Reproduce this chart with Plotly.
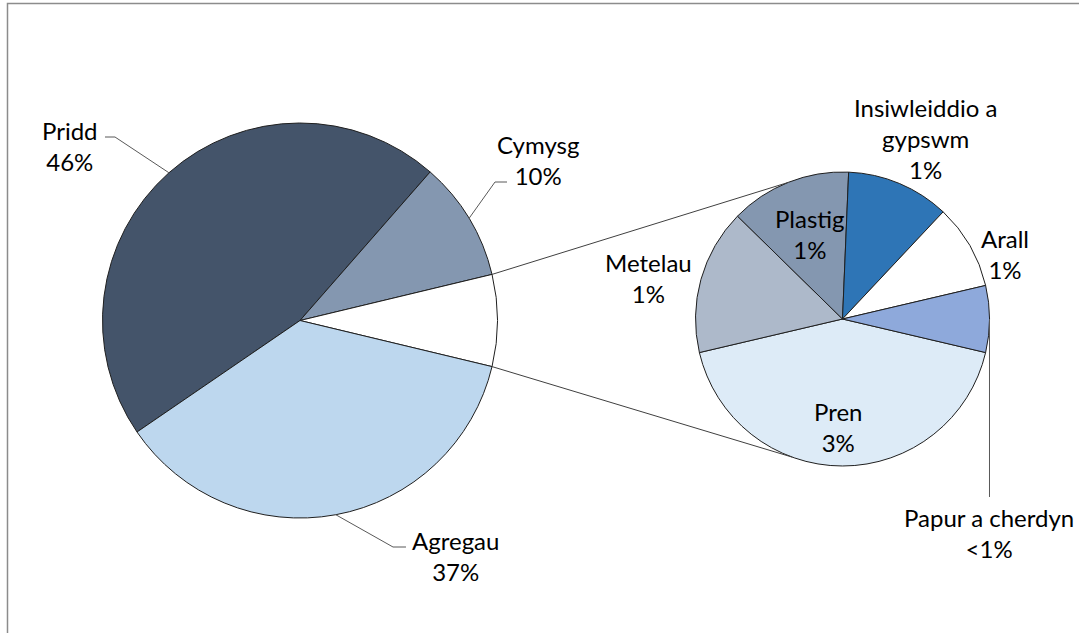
import math
import plotly.graph_objects as go

W, H = 1079, 633

# ---------------- data ----------------
main_names = ["Pridd", "Cymysg", "Agregau"]
main_values = [46.0, 9.8, 36.7]
main_pct_text = ["46%", "10%", "37%"]

sub_names = ["Pren", "Metelau", "Plastig", "Insiwleiddio a gypswm", "Arall", "Papur a cherdyn"]
sub_display = ["Pren", "Metelau", "Plastig", "Insiwleiddio a<br>gypswm", "Arall", "Papur a cherdyn"]
sub_values = [3.2, 1.2, 1.0, 0.85, 0.7, 0.55]
sub_pct_text = ["3%", "1%", "1%", "1%", "1%", "<1%"]

# ---------------- styles ----------------
FONT = "Lato"
FS = 24
main_colors = ["#44546A", "#8497B0", "#FFFFFF", "#BDD7EE"]
sub_colors = ["#DDEBF7", "#ADB9CA", "#8497B0", "#2E75B6", "#FFFFFF", "#8EA9DB"]
OUTLINE = "#1F1F1F"

# pie geometry in pixels (centre, radius)
MCX, MCY, MR = 300.0, 320.5, 197.5
SCX, SCY, SR = 842.5, 319.0, 147.0

other_total = sum(sub_values)
m_labels = [main_names[0], main_names[1], "Eraill", main_names[2]]
m_vals = [main_values[0], main_values[1], other_total, main_values[2]]
m_total = sum(m_vals)
s_total = sum(sub_values)

# rotate so that the split slice is centred at 3 o'clock
main_rot = 90 - 360 * (m_vals[0] + m_vals[1] + m_vals[2] / 2) / m_total
# second pie: first slice centred at 6 o'clock
sub_rot = 180 - 360 * (sub_values[0] / 2) / s_total


def px(x):
    return x / W


def py(y):
    return 1 - y / H


def dom(cx, cy, r):
    return dict(x=[px(cx - r), px(cx + r)], y=[py(cy + r), py(cy - r)])


def arc_pt(cx, cy, r, rot, frac):
    t = math.radians(rot + 360 * frac)
    return cx + r * math.sin(t), cy - r * math.cos(t)


fig = go.Figure()
fig.add_trace(go.Pie(
    labels=m_labels, values=m_vals, sort=False, direction="clockwise",
    rotation=main_rot, domain=dom(MCX, MCY, MR), textinfo="none",
    marker=dict(colors=main_colors, line=dict(color=OUTLINE, width=1)),
    showlegend=False, hoverinfo="label+percent"))
fig.add_trace(go.Pie(
    labels=sub_names, values=sub_values, sort=False, direction="clockwise",
    rotation=sub_rot, domain=dom(SCX, SCY, SR), textinfo="none",
    marker=dict(colors=sub_colors, line=dict(color=OUTLINE, width=1)),
    showlegend=False, hoverinfo="label+value"))

shapes = []


def line(pts, color="#404040", width=1):
    path = "M " + " L ".join(f"{px(x):.5f},{py(y):.5f}" for x, y in pts)
    shapes.append(dict(type="path", path=path, xref="paper", yref="paper",
                       line=dict(color=color, width=width)))


# connector lines between the split slice and the second pie
cum = [0]
for v in m_vals:
    cum.append(cum[-1] + v)
top_main = arc_pt(MCX, MCY, MR, main_rot, cum[2] / m_total)
bot_main = arc_pt(MCX, MCY, MR, main_rot, cum[3] / m_total)
ang = math.radians(112)
top_sub = (SCX + SR * math.cos(ang), SCY - SR * math.sin(ang))
ang_b = math.radians(110)
bot_sub = (SCX + SR * math.cos(-ang_b), SCY - SR * math.sin(-ang_b))
line([top_main, top_sub])
line([bot_main, bot_sub])

# leader lines for main pie labels
mid = lambda i: arc_pt(MCX, MCY, MR, main_rot, (cum[i] + m_vals[i] / 2) / m_total)
LC = "#595959"
line([mid(0), (115, 137), (105, 137)], LC)
line([mid(1), (495, 182), (507, 182)], LC)
line([mid(3), (393, 547), (406, 547)], LC)

# leader for the smallest slice of the second pie
scum = [0]
for v in sub_values:
    scum.append(scum[-1] + v)
pm = arc_pt(SCX, SCY, SR, sub_rot, (scum[5] + sub_values[5] / 2) / s_total)
line([pm, (pm[0], 497)], LC)

# chart border (top and left edges visible)
line([(7.5, 633), (7.5, 3.5), (1079, 3.5)], "#8C8C8C", 1.5)

annotations = []


def label(text, x, y):
    annotations.append(dict(text=text, x=px(x), y=py(y), xref="paper", yref="paper",
                            xanchor="center", yanchor="middle", showarrow=False,
                            align="center", font=dict(family=FONT, size=FS, color="#000000")))


main_pos = [(70, 146), (538, 160), (455, 556)]
for name, pct, (x, y) in zip(main_names, main_pct_text, main_pos):
    label(f"{name}<br>{pct}", x, y)

sub_pos = [(838, 427), (648, 278), (810, 234), (925, 138), (1005, 254), (989, 533)]
for name, pct, (x, y) in zip(sub_display, sub_pct_text, sub_pos):
    label(f"{name}<br>{pct}", x, y)

fig.update_layout(
    width=W, height=H, margin=dict(l=0, r=0, t=0, b=0),
    paper_bgcolor="#FFFFFF", plot_bgcolor="#FFFFFF",
    shapes=shapes, annotations=annotations,
    font=dict(family=FONT, size=FS),
)

fig.write_html("out.html", config={"displayModeBar": False},
               post_script="document.body.style.margin='0';document.body.style.overflow='hidden';")
